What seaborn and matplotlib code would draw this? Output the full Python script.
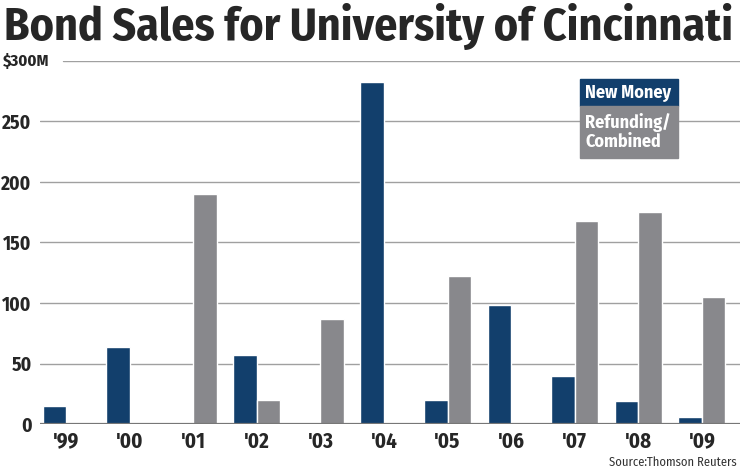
import numpy as np
import pandas as pd
import seaborn as sns
import matplotlib.pyplot as plt
import matplotlib.transforms as mtransforms
from matplotlib.patches import Rectangle

# Data (millions of dollars)
years = ["'99", "'00", "'01", "'02", "'03", "'04", "'05", "'06", "'07", "'08", "'09"]
new_money = [15, 64, 0, 57, 0, 283, 20, 98, 40, 19, 6]
refunding = [0, 0, 190, 20, 87, 0, 122, 0, 168, 175, 105]
series = ["New Money", "Refunding/\nCombined"]
yticks = [0, 50, 100, 150, 200, 250, 300]
ytick_labels = ["0", "50", "100", "150", "200", "250", "$300M"]

navy = "#123f6c"
gray = "#88888c"

df = pd.DataFrame({
    "year": years * 2,
    "value": new_money + refunding,
    "type": [series[0]] * len(years) + [series[1]] * len(years),
})

sns.set_style("white")
plt.rcParams["font.family"] = ["Fira Sans Condensed", "PT Sans Narrow", "DejaVu Sans"]
plt.rcParams["font.weight"] = "bold"

fig = plt.figure(figsize=(7.4, 4.74), dpi=100)
ax = fig.add_axes([40 / 740, 50 / 474, 700 / 740, 363 / 474])

sns.barplot(df, x="year", y="value", hue="type", palette=[navy, gray],
            width=0.74, ax=ax, legend=False, saturation=1, zorder=2)

ax.set_ylim(0, 300)
ax.set_xlim(-0.41, 10.6)
for v in yticks[1:]:
    ax.axhline(v, xmin=0.033 if v == 300 else 0, color="#a0a0a0", lw=1, zorder=0)
ax.axhline(0, color="#777777", lw=1.6, zorder=3)

# top label sits further left than the others, so draw it on its own
ax.set_yticks(yticks[:-1])
ax.set_yticklabels(ytick_labels[:-1], fontsize=14, fontweight="bold")
trans = mtransforms.blended_transform_factory(ax.transAxes, ax.transData)
ax.text(-37 / 700, yticks[-1], ytick_labels[-1], transform=trans, fontsize=12,
        fontweight="bold", ha="left", va="center")
ax.tick_params(axis="y", length=0, pad=6)
ax.tick_params(axis="x", length=0, pad=5, labelsize=15)
for t in ax.get_xticklabels():
    t.set_fontweight("bold")
ax.set_xlabel("")
ax.set_ylabel("")
sns.despine(ax=ax, left=True, bottom=True, right=True, top=True)

fig.text(0.006, 0.992, "Bond Sales for University of Cincinnati",
         fontsize=33, fontweight="bold", va="top", ha="left")
fig.text(0.996, 0.012, "Source:Thomson Reuters", fontsize=9,
         fontweight="normal", ha="right", va="bottom", color="#333333")

# legend boxes
fig.patches.append(Rectangle((580 / 740, 1 - 106 / 474), 98 / 740, 27 / 474,
                             transform=fig.transFigure, color=navy))
fig.patches.append(Rectangle((580 / 740, 1 - 158 / 474), 98 / 740, 52 / 474,
                             transform=fig.transFigure, color=gray))
fig.text(585 / 740, 1 - 93 / 474, series[0], color="white", fontsize=13,
         fontweight="bold", va="center", ha="left")
fig.text(585 / 740, 1 - 132 / 474, series[1], color="white", fontsize=13,
         fontweight="bold", va="center", ha="left", linespacing=1.1)

fig.savefig("out.png", dpi=100)
